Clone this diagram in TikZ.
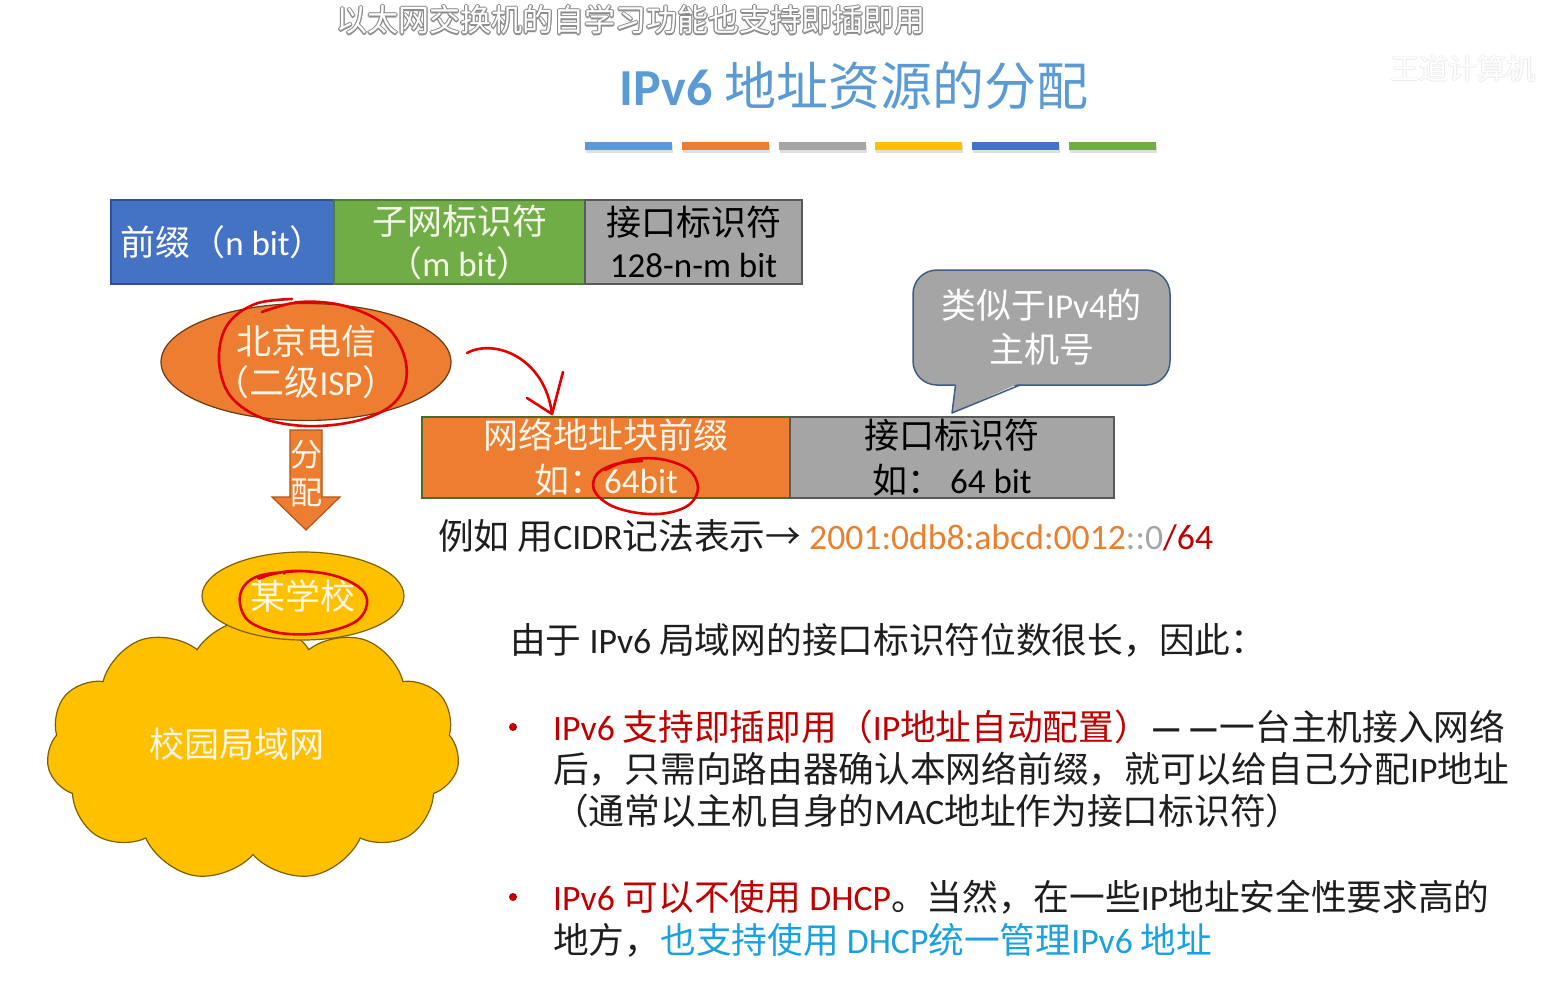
\documentclass[tikz,border=0pt]{standalone}
\usepackage{fontspec}
\setmainfont{Noto Sans CJK SC}
\newfontfamily\latfont{Carlito}
\usetikzlibrary{shapes.geometric,shapes.symbols,shadows}

\definecolor{titleblue}{HTML}{5B9BD5}
\definecolor{barblue}{HTML}{5B9BD5}
\definecolor{barorange}{HTML}{ED7D31}
\definecolor{bargray}{HTML}{A5A5A5}
\definecolor{baryellow}{HTML}{FFC000}
\definecolor{bardeep}{HTML}{4472C4}
\definecolor{bargreen}{HTML}{70AD47}
\definecolor{prefixborder}{HTML}{2F528F}
\definecolor{subnetborder}{HTML}{507E32}
\definecolor{grayborder}{HTML}{595959}
\definecolor{netborder}{HTML}{4E6B2A}
\definecolor{ispborder}{HTML}{6B3A14}
\definecolor{arrowborder}{HTML}{B0561A}
\definecolor{schoolborder}{HTML}{7F6000}
\definecolor{calloutborder}{HTML}{3E5C84}
\definecolor{inkred}{HTML}{E00000}
\definecolor{textred}{HTML}{C00000}
\definecolor{textcyan}{HTML}{1BA1E2}
\definecolor{textdark}{HTML}{1E1E1E}
\definecolor{cream}{HTML}{FFF6E8}
\definecolor{palegreen}{HTML}{F4F8E8}
\definecolor{cidrorange}{HTML}{E8802E}
\definecolor{cidrgray}{HTML}{A6A6A6}

% Latin runs are set in Carlito, everything else in Noto Sans CJK
\newcommand\la[1]{{\latfont #1}}
% a pair of heavy dashes
\newcommand\dashpair{{\latfont\bfseries —\hspace{5pt}—}}

\begin{document}
\begin{tikzpicture}[x=1pt,y=-1pt,
  field/.style={draw, line width=1.5pt, inner sep=0pt, minimum height=84,
    align=center, font=\fontsize{35}{42}\selectfont},
  body/.style={inner sep=0pt, anchor=base west, text=textdark,
    font=\fontsize{35.7}{42}\selectfont},
  redpen/.style={draw=inkred, line width=2.6pt, line cap=round, line join=round},
  bar/.style={minimum width=87, minimum height=8, inner sep=0pt,
    drop shadow={shadow xshift=1pt, shadow yshift=-2.5pt, opacity=0.25}},
  bulletdot/.style={circle, fill=textred, minimum size=8, inner sep=0pt},
  subtitle/.style={anchor=base, inner sep=0pt, font=\fontsize{31}{34}\selectfont}
]
\useasboundingbox[fill=white] (0,0) rectangle (1545,982);

% ---- subtitle with a thin grey outline ----
\foreach \dx/\dy [count=\i] in {-1.2/0,1.2/0,0/-1.2,0/1.2,-0.9/-0.9,0.9/0.9,-0.9/0.9,0.9/-0.9}
  \node[subtitle, text=black!45] (subedge\i) at (631+\dx,32+\dy) {以太网交换机的自学习功能也支持即插即用};
\node[subtitle, text=white] (subtitle) at (631,32) {以太网交换机的自学习功能也支持即插即用};

% faint logo in the corner
\foreach \dx/\dy [count=\i] in {-0.8/0,0.8/0,0/-0.8,0/0.8}
  \node[anchor=base west, inner sep=0pt, text=black!8, font=\fontsize{29}{32}\selectfont] (logoedge\i) at (1390+\dx,80+\dy) {王道计算机};
\node[anchor=base west, inner sep=0pt, text=white, font=\fontsize{29}{32}\selectfont] (logo) at (1390,80) {王道计算机};

% ---- title and colour bars ----
\node[anchor=base, inner sep=0pt, text=titleblue, font=\fontsize{52}{56}\selectfont] (title) at (854,106)
  {{\latfont\bfseries IPv6} 地址资源的分配};
\foreach \c [count=\i] in {barblue,barorange,bargray,baryellow,bardeep,bargreen}
  \node[bar, fill=\c] (bar\i) at ({628.5+96.8*(\i-1)},146) {};

% ---- address fields ----
\node[field, fill=bardeep, draw=prefixborder, minimum width=223, text=white] (prefix) at (222.5,242) {前缀（\la{n bit}）};
\node[field, fill=bargreen, draw=subnetborder, minimum width=251, text=palegreen] (subnet) at (459.5,242) {子网标识符\\（\la{m bit}）};
\node[field, fill=bargray, draw=grayborder, line width=1.2pt, minimum width=217, text=black] (iface) at (693.5,242) {接口标识符\\\la{128-n-m bit}};

% ---- ISP ellipse and allocation arrow ----
\node[ellipse, draw=ispborder, line width=1.2pt, fill=barorange, minimum width=290, minimum height=117,
  inner sep=0pt, text=cream, align=center, font=\fontsize{35}{41}\selectfont] (isp) at (306,362) {北京电信\\（二级\la{ISP}）};
\draw[line width=1.2pt, draw=arrowborder, fill=barorange]
  (290,430) -- (322,430) -- (322,497) -- (340,497) -- (306,530) -- (272,497) -- (290,497) -- cycle;
\node[inner sep=0pt, text=cream, align=center, font=\fontsize{32}{38}\selectfont] (alloc) at (306,474) {分\\配};

% ---- network block prefix / interface id ----
\node[field, fill=barorange, draw=netborder, line width=1.2pt, minimum width=368, minimum height=81, text=cream,
  font=\fontsize{35}{45}\selectfont] (netpre) at (606,457.5) {网络地址块前缀\\如：\la{64bit}};
\node[field, fill=bargray, draw=grayborder, line width=1.2pt, minimum width=324, minimum height=81, text=black,
  font=\fontsize{35}{45}\selectfont] (hostid) at (952,457.5) {接口标识符\\如：\ \la{64 bit}};

% ---- callout ----
\node[draw=calloutborder, line width=1.5pt, fill=bargray, rounded corners=24, minimum width=257, minimum height=115,
  inner sep=0pt, text=white, align=center, font=\fontsize{35}{44}\selectfont] (note) at (1041.5,327.5) {类似于\la{IPv4}的\\主机号};
\fill[bargray] (955.5,383) -- (952,413) -- (1020,383) -- cycle;
\draw[calloutborder, line width=1.5pt, line join=round] (955.5,385) -- (952,413) -- (1020,385);

% ---- CIDR example ----
\node[body] (cidr) at (438,549) {例如 用\la{CIDR}记法表示→ \textcolor{cidrorange}{\la{2001:0db8:abcd:0012}}\textcolor{cidrgray}{\la{::0}}\textcolor{textred}{\la{/64}}};

% ---- campus cloud and school ----
\node[cloud, cloud puffs=11, cloud puff arc=115, aspect=1.6, draw=schoolborder, line width=1.2pt, fill=baryellow,
  minimum width=413, minimum height=262, inner sep=0pt] (lan) at (253,750) {};
\node[inner sep=0pt, text=cream, font=\fontsize{35}{40}\selectfont] (lanlabel) at (237,744) {校园局域网};
\node[ellipse, draw=schoolborder, line width=1.2pt, fill=baryellow, minimum width=202, minimum height=88,
  inner sep=0pt, text=cream, font=\fontsize{35}{40}\selectfont] (school) at (303,596) {某学校};

% ---- explanation text ----
\node[body] (intro) at (510,653) {由于 \la{IPv6} 局域网的接口标识符位数很长，因此：};
\node[bulletdot] (dot1) at (513,727) {};
\node[body] (b1a) at (553,740) {\textcolor{textred}{\la{IPv6} 支持即插即用（\la{IP}地址自动配置）}\dashpair 一台主机接入网络};
\node[body] (b1b) at (553,782) {后，只需向路由器确认本网络前缀，就可以给自己分配\la{IP}地址};
\node[body] (b1c) at (553,824) {（通常以主机自身的\la{MAC}地址作为接口标识符）};
\node[bulletdot] (dot2) at (513,897) {};
\node[body] (b2a) at (553,910) {\textcolor{textred}{\la{IPv6} 可以不使用 \la{DHCP}}。当然，在一些\la{IP}地址安全性要求高的};
\node[body] (b2b) at (553,953) {地方，\textcolor{textcyan}{也支持使用 \la{DHCP}统一管理\la{IPv6} 地址}};

% ---- red pen annotations ----
\draw[redpen] plot[smooth, tension=0.6] coordinates {(262,312) (300,302) (345,306) (385,325) (404,355) (405,385)
  (388,408) (352,422) (305,426) (262,418) (232,398) (220,370) (221,340) (233,318) (258,303) (292,299)};
\coordinate (penstart) at (467,353);
\coordinate (pentip) at (552,414);
\draw[redpen] (penstart) .. controls (495,338) and (545,358) .. (pentip);
\draw[redpen] (527,398) -- (pentip) -- (563,372);
\draw[redpen] plot[smooth, tension=0.6] coordinates {(605,470) (630,460) (660,459) (688,469) (698,487) (690,504)
  (667,513) (638,513) (610,505) (594,490) (597,474) (616,464) (642,461)};
\draw[redpen] plot[smooth, tension=0.6] coordinates {(258,578) (292,571) (332,575) (360,588) (367,604) (355,622)
  (320,633) (280,633) (250,622) (240,604) (244,586) (262,575) (300,571)};
\draw[redpen, line width=1.6pt] (259,579) -- (265,577);
\draw[redpen, line width=1.6pt] (284,574) -- (287,571);
\end{tikzpicture}
\end{document}
